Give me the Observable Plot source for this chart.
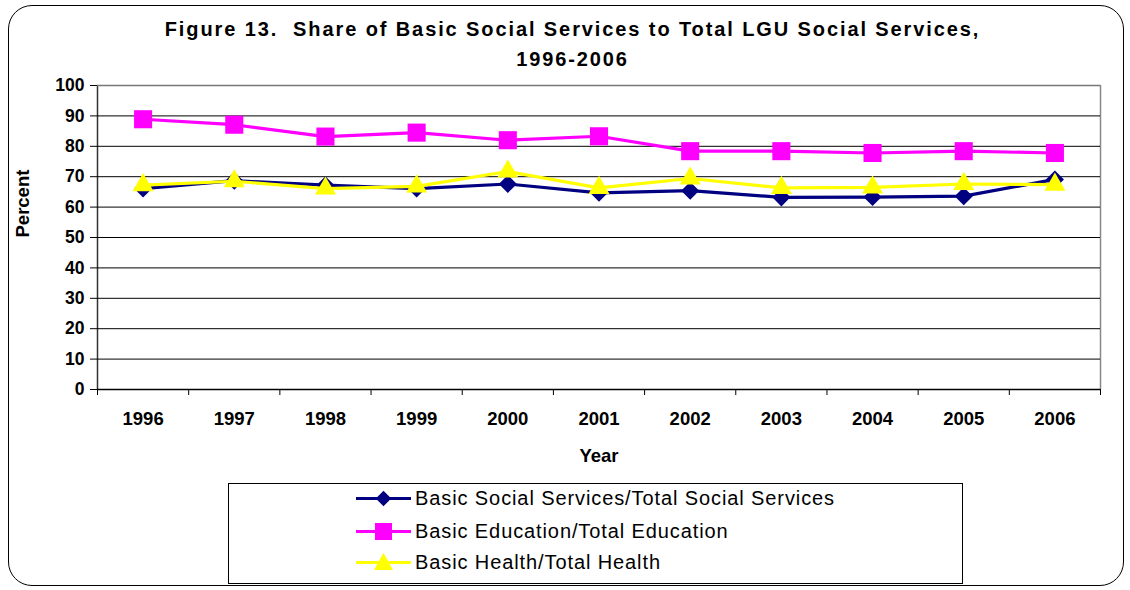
<!DOCTYPE html>
<html>
<head>
<meta charset="utf-8">
<script src="https://cdn.jsdelivr.net/npm/d3@7"></script>
<script src="https://cdn.jsdelivr.net/npm/@observablehq/plot@0.6"></script>
<style>
  html, body { margin: 0; padding: 0; background: #fff; }
  #wrap { position: relative; width: 1130px; height: 590px; font-family: "Liberation Sans", Arial, sans-serif; overflow: hidden; }
  #frame { position: absolute; left: 8px; top: 5px; width: 1116px; height: 581px; border: 1.5px solid #000; border-radius: 24px; box-sizing: border-box; }
  #title { position: absolute; left: 0; width: 1145px; top: 14px; text-align: center; font-weight: bold; font-size: 20px; letter-spacing: 1.9px; line-height: 30px; color: #000; }
  #legend { position: absolute; left: 228px; top: 483px; width: 735px; height: 101px; border: 1px solid #000; box-sizing: border-box; background: #fff; }
  .entry { position: absolute; left: 127px; height: 24px; display: flex; align-items: center; font-size: 20px; letter-spacing: 0.9px; color: #000; }
  .entry svg { margin-right: 3px; }
  #chart { position: absolute; left: 0; top: 0; }
</style>
</head>
<body>
<div id="wrap">
  <div id="chart"></div>
  <div id="frame"></div>
  <div id="title">Figure 13.&nbsp; Share of Basic Social Services to Total LGU Social Services,<br>1996-2006</div>
  <div id="legend"></div>
</div>
<script>
// ---- Data ----
const years = [1996, 1997, 1998, 1999, 2000, 2001, 2002, 2003, 2004, 2005, 2006];
const socialShare    = [66.1, 68.7, 67.2, 66.1, 67.6, 64.7, 65.4, 63.2, 63.3, 63.6, 69.1];
const educationShare = [88.9, 87.1, 83.2, 84.5, 82.0, 83.3, 78.4, 78.4, 77.8, 78.4, 77.8];
const healthShare    = [67.2, 68.5, 66.1, 66.8, 71.7, 66.3, 69.4, 66.3, 66.5, 67.6, 67.4];
const yTicks = [0, 10, 20, 30, 40, 50, 60, 70, 80, 90, 100];
const seriesNames = [
  "Basic Social Services/Total Social Services",
  "Basic Education/Total Education",
  "Basic Health/Total Health"
];
const seriesColors = ["#000080", "#FF00FF", "#FFFF00"];

const seriesValues = [socialShare, educationShare, healthShare];
const tables = seriesValues.map((vals, i) => years.map((yr, j) => ({year: yr, value: vals[j], series: seriesNames[i]})));
const boundaries = years.map(y => y - 0.5).concat([years[years.length - 1] + 0.5]);
const yMax = yTicks[yTicks.length - 1];

const symbolSpecs = [
  {symbol: "square", r: 7.2, rotate: 45},
  {symbol: "square", r: 10.2, rotate: 0},
  {symbol: "triangle", r: 7.8, rotate: 0}
];

const seriesMarks = [];
tables.forEach((t, i) => {
  seriesMarks.push(Plot.line(t, {x: "year", y: "value", stroke: seriesColors[i], strokeWidth: 3.2}));
  seriesMarks.push(Plot.dot(t, {x: "year", y: "value", symbol: () => symbolSpecs[i].symbol, r: symbolSpecs[i].r, rotate: symbolSpecs[i].rotate, fill: seriesColors[i], stroke: "none"}));
});

const chart = Plot.plot({
  width: 1130,
  height: 590,
  marginLeft: 97,
  marginRight: 30,
  marginTop: 85,
  marginBottom: 201,
  style: {fontFamily: "'Liberation Sans', Arial, sans-serif", background: "transparent"},
  x: {type: "linear", domain: [boundaries[0], boundaries[boundaries.length - 1]]},
  y: {domain: [0, yMax]},
  symbol: {type: "identity"},
  marks: [
    Plot.ruleX([boundaries[0]], {stroke: "#333", strokeWidth: 1.5}),
    Plot.ruleX([boundaries[boundaries.length - 1]], {stroke: "#888", strokeWidth: 1.5}),
    Plot.ruleY(yTicks.filter(v => v > 0 && v < yMax), {stroke: "#000", strokeWidth: 1}),
    Plot.ruleY([yMax], {stroke: "#777", strokeWidth: 1.5}),
    Plot.ruleY([0], {stroke: "#000", strokeWidth: 1.5}),
    Plot.axisY({ticks: yTicks, tickSize: 7, tickPadding: 6, fontSize: 17.5, fontWeight: "bold", label: null, stroke: "#000"}),
    Plot.axisX({ticks: boundaries, tickFormat: () => "", tickSize: 6, label: null, stroke: "#000"}),
    Plot.axisX({ticks: years, tickFormat: d => String(d), tickSize: 0, tickPadding: 22, fontSize: 18.5, fontWeight: "bold", label: null}),
    Plot.text(["Percent"], {text: d => d, frameAnchor: "left", dx: -74, rotate: -90, fontSize: 18.5, fontWeight: "bold"}),
    Plot.text(["Year"], {text: d => d, frameAnchor: "bottom", dy: 72, fontSize: 18.5, fontWeight: "bold"}),
    ...seriesMarks
  ]
});
document.getElementById("chart").appendChild(chart);

// ---- Legend ----
const legend = document.getElementById("legend");
const swatchShapes = [
  '<rect x="22" y="5" width="11" height="11" transform="rotate(45 27.5 10.5)" />',
  '<rect x="19" y="2" width="17" height="17" />',
  '<polygon points="27.5,1 37,18 18,18" />'
];
const legendTops = [2, 35, 66];
seriesNames.forEach((name, i) => {
  const e = document.createElement("div");
  e.className = "entry";
  e.style.top = legendTops[i] + "px";
  e.innerHTML = `<svg width="56" height="21"><line x1="0" x2="55" y1="10.5" y2="10.5" stroke="${seriesColors[i]}" stroke-width="3.2"/><g fill="${seriesColors[i]}">${swatchShapes[i]}</g></svg><span>${name}</span>`;
  legend.appendChild(e);
});
</script>
</body>
</html>
